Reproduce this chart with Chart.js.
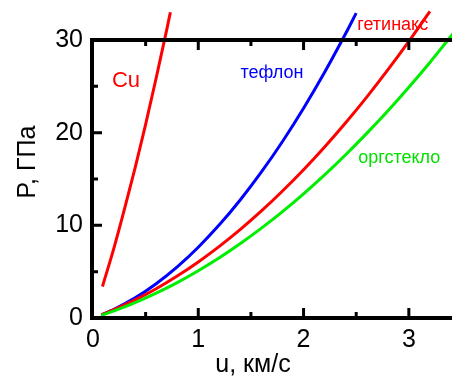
<!DOCTYPE html>
<html>
<head>
<meta charset="utf-8">
<script src="https://cdn.jsdelivr.net/npm/chart.js@4/dist/chart.umd.min.js"></script>
<style>
  html, body { margin: 0; padding: 0; background: #fff; }
  #wrap { width: 452px; height: 379px; }
</style>
</head>
<body>
<div id="wrap"><canvas id="hugoniot"></canvas></div>
<script>
// данные: u (км/с) и P (ГПа)
const uCu = [0.09, 0.2, 0.3, 0.4, 0.5, 0.6, 0.7, 0.735];
const pCu = [3.4, 7.6, 11.8, 16.2, 20.9, 25.9, 31.1, 33.0];

const uTeflon = [0.08, 0.2, 0.4, 0.6, 0.8, 1.0, 1.2, 1.4, 1.6, 1.8, 2.0, 2.2, 2.4, 2.5];
const pTeflon = [0.34, 0.94, 2.17, 3.70, 5.52, 7.64, 10.05, 12.76, 15.76, 19.05, 22.64, 26.52, 30.70, 32.9];

const uGetinax = [0.08, 0.2, 0.4, 0.6, 0.8, 1.0, 1.2, 1.4, 1.6, 1.8, 2.0, 2.2, 2.4, 2.6, 2.8, 3.0, 3.2];
const pGetinax = [0.34, 0.90, 1.95, 3.16, 4.53, 6.05, 7.73, 9.56, 11.55, 13.70, 16.0, 18.46, 21.07, 23.84, 26.77, 29.85, 33.1];

const uPlexi = [0.08, 0.2, 0.4, 0.6, 0.8, 1.0, 1.2, 1.4, 1.6, 1.8, 2.0, 2.2, 2.4, 2.6, 2.8, 3.0, 3.2, 3.4, 3.5];
const pPlexi = [0.29, 0.76, 1.66, 2.68, 3.82, 5.10, 6.50, 8.04, 9.70, 11.48, 13.40, 15.44, 17.62, 19.92, 22.34, 24.90, 27.58, 30.40, 31.8];

const xTicks = [0, 1, 2, 3];
const xMinor = [0.5, 1.5, 2.5];
const yTicks = [0, 10, 20, 30];
const yMinor = [5, 15, 25];

// подписи кривых (в координатах данных)
const curveLabels = [
    { text: 'Cu', u: 0.18, p: 25.6, color: '#ff0000', size: 22 },
    { text: 'тефлон', u: 1.40, p: 26.4, color: '#0000ff', size: 18 },
    { text: 'гетинакс', u: 2.51, p: 31.6, color: '#ff0000', size: 18 },
    { text: 'оргстекло', u: 2.52, p: 17.3, color: '#00e000', size: 18 }
];

const FONT = '"Liberation Sans", Arial, sans-serif';

function toPoints(us, ps) {
    return us.map((u, i) => ({ x: u, y: ps[i] }));
}

function series(us, ps, color) {
    return {
        data: toPoints(us, ps),
        borderColor: color,
        borderWidth: 3,
        pointRadius: 0,
        fill: false,
        clip: false,
        cubicInterpolationMode: 'monotone'
    };
}

// рамка, засечки внутрь и подписи
const framePlugin = {
    id: 'frame',
    afterDraw(chart) {
        const ctx = chart.ctx;
        const x = chart.scales.x, y = chart.scales.y;
        const a = chart.chartArea;
        ctx.save();
        ctx.strokeStyle = '#000';
        ctx.lineWidth = 4;
        ctx.beginPath();
        ctx.moveTo(a.left - 1, a.top);
        ctx.lineTo(a.right, a.top);
        ctx.moveTo(a.left - 1, a.top - 2);
        ctx.lineTo(a.left - 1, a.bottom + 2);
        ctx.moveTo(a.left - 3, a.bottom);
        ctx.lineTo(a.right, a.bottom);
        ctx.stroke();

        ctx.lineWidth = 3;
        ctx.beginPath();
        const tick = (vals, len) => {
            vals.forEach(v => {
                const px = x.getPixelForValue(v);
                ctx.moveTo(px, a.bottom);
                ctx.lineTo(px, a.bottom - len);
                ctx.moveTo(px, a.top);
                ctx.lineTo(px, a.top + len);
            });
        };
        tick(xTicks.slice(1), 10);
        tick(xMinor, 6);
        yTicks.slice(1, -1).forEach(v => {
            const py = y.getPixelForValue(v);
            ctx.moveTo(a.left, py);
            ctx.lineTo(a.left + 9, py);
        });
        yMinor.forEach(v => {
            const py = y.getPixelForValue(v);
            ctx.moveTo(a.left, py);
            ctx.lineTo(a.left + 5, py);
        });
        ctx.stroke();

        ctx.textBaseline = 'middle';
        ctx.textAlign = 'left';
        curveLabels.forEach(l => {
            ctx.font = 'normal ' + l.size + 'px ' + FONT;
            ctx.fillStyle = l.color;
            ctx.fillText(l.text, x.getPixelForValue(l.u), y.getPixelForValue(l.p));
        });

        ctx.fillStyle = '#000';
        ctx.font = 'normal 25px ' + FONT;
        ctx.textAlign = 'center';
        ctx.fillText('u, км/с', 253, 365);
        ctx.translate(28, 162);
        ctx.rotate(-Math.PI / 2);
        ctx.fillText('P, ГПа', 0, 0);
        ctx.restore();
    }
};

new Chart(document.getElementById('hugoniot'), {
    type: 'line',
    data: {
        datasets: [
            series(uPlexi, pPlexi, '#00ee00'),
            series(uGetinax, pGetinax, '#ff0000'),
            series(uTeflon, pTeflon, '#0000ff'),
            series(uCu, pCu, '#ff0000')
        ]
    },
    options: {
        responsive: true,
        maintainAspectRatio: false,
        animation: false,
        layout: { padding: { top: 40, right: 0, bottom: 0, left: 0 } },
        plugins: { legend: { display: false }, tooltip: { enabled: false } },
        scales: {
            x: {
                type: 'linear',
                min: 0,
                max: 3.41,
                afterBuildTicks: s => { s.ticks = xTicks.map(v => ({ value: v })); },
                afterFit: s => { s.height = 61; },
                grid: { display: false },
                border: { display: false },
                ticks: { color: '#000', padding: -1, maxRotation: 0, font: { family: FONT, size: 25, weight: 'normal' } }
            },
            y: {
                min: 0,
                max: 30,
                afterBuildTicks: s => { s.ticks = yTicks.map(v => ({ value: v })); },
                afterFit: s => { s.width = 93; },
                grid: { display: false },
                border: { display: false },
                ticks: { color: '#000', padding: 2, font: { family: FONT, size: 25, weight: 'normal' } }
            }
        }
    },
    plugins: [framePlugin]
});
</script>
</body>
</html>
